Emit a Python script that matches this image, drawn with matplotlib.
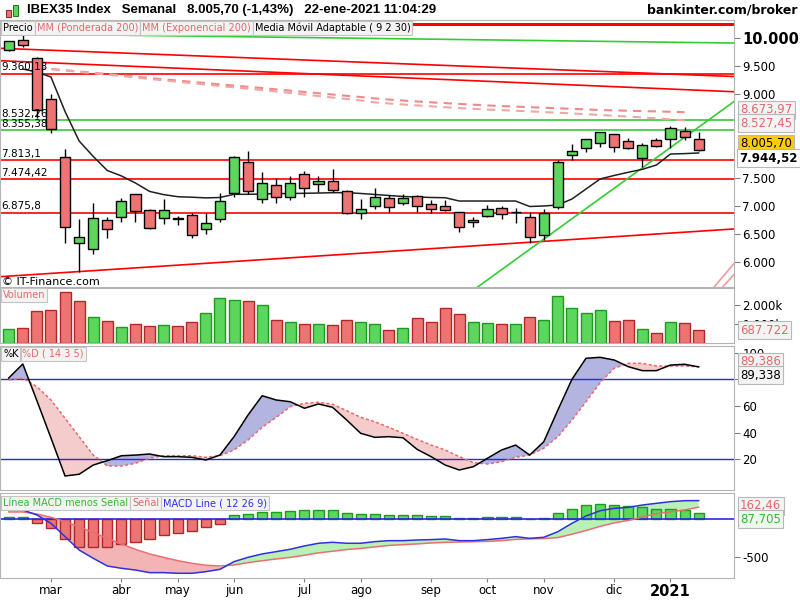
import numpy as np
import pandas as pd
import matplotlib
matplotlib.use("Agg")
import matplotlib.pyplot as plt
from matplotlib.patches import Rectangle

# --- datos semanales IBEX35 ---
fechas = pd.date_range("2020-02-10", periods=50, freq="W-MON")
meses = ["ene", "feb", "mar", "abr", "may", "jun", "jul", "ago", "sep", "oct", "nov", "dic"]

apertura = [9786, 9965, 9638, 8904, 7867, 6329, 6222, 6746, 6794, 7205, 6924, 6776, 6780, 6835, 6585,
            6758, 7223, 7788, 7116, 7366, 7152, 7568, 7395, 7443, 7264, 6865, 6991, 7134, 7044, 7170,
            7026, 6991, 6883, 6704, 6812, 6955, 6885, 6794, 6472, 6973, 7903, 8028, 8117, 8278, 8153,
            7849, 8171, 8189, 8337, 8189]
cierre = [9953, 9870, 8713, 8368, 6615, 6436, 6776, 6579, 7085, 6912, 6608, 6924, 6772, 6477, 6687,
          7085, 7867, 7270, 7402, 7162, 7402, 7313, 7443, 7288, 6876, 6942, 7152, 6973, 7134, 6991,
          6937, 6919, 6615, 6746, 6942, 6847, 6880, 6447, 6865, 7788, 7980, 8189, 8314, 8051, 8028,
          8082, 8064, 8396, 8225, 8005.70]
maximo = [9956, 10056, 9666, 8999, 8015, 6763, 7055, 6794, 7134, 7211, 6942, 7121, 6817, 6866, 6866,
          7234, 7890, 7985, 7599, 7491, 7533, 7627, 7533, 7658, 7277, 7121, 7313, 7193, 7205, 7193,
          7103, 7103, 6888, 6799, 7014, 6987, 6955, 6894, 6937, 7819, 8105, 8194, 8320, 8284, 8207,
          8117, 8218, 8432, 8414, 8325]
minimo = [9768, 9834, 8565, 8296, 6339, 5821, 6137, 6418, 6716, 6716, 6585, 6674, 6656, 6418, 6490,
          6716, 7162, 7211, 7055, 7055, 7103, 7162, 7241, 7241, 6858, 6769, 6942, 6894, 7019, 6894,
          6876, 6906, 6536, 6626, 6805, 6758, 6697, 6339, 6388, 6937, 7819, 7956, 8057, 7967, 8024,
          7699, 8060, 8028, 8176, 7980]

# Media Movil Adaptable (9 2 30), desde la semana 1
mma = [9446, 9393, 9303, 8686, 8159, 7883, 7631, 7534, 7407, 7257, 7200, 7162, 7153, 7141, 7148,
       7205, 7205, 7211, 7216, 7220, 7223, 7228, 7234, 7234, 7220, 7202, 7184, 7166, 7157, 7148,
       7144, 7085, 7085, 7085, 7085, 7085, 6987, 6996, 7014, 7121, 7300, 7479, 7542, 7599, 7652,
       7729, 7926, 7933, 7944.52]
# MM ponderada / exponencial 200, desde la semana 2
mm_ponderada = [9470, 9447, 9425, 9402, 9380, 9357, 9334, 9310, 9285, 9262, 9240, 9217, 9195, 9172,
                9150, 9128, 9106, 9082, 9059, 9036, 9013, 8990, 8967, 8945, 8920, 8900, 8882, 8866,
                8850, 8836, 8822, 8808, 8795, 8784, 8774, 8764, 8754, 8744, 8734, 8724, 8713, 8706,
                8700, 8694, 8688, 8681, 8673.97]
mm_exponencial = [9470, 9445, 9420, 9395, 9370, 9345, 9320, 9294, 9268, 9243, 9218, 9193, 9168, 9143,
                  9118, 9094, 9071, 9044, 9017, 8990, 8963, 8936, 8910, 8884, 8850, 8830, 8812, 8795,
                  8779, 8763, 8748, 8734, 8720, 8711, 8700, 8688, 8676, 8664, 8652, 8638, 8624, 8610,
                  8595, 8580, 8564, 8546, 8527.45]

niveles_rojos = [9360.13, 7813.1, 7474.42, 6875.8]
textos_rojos = ["9.360,13", "7.813,1", "7.474,42", "6.875,8"]
niveles_verdes = [8532.26, 8355.38]
textos_verdes = ["8.532,26", "8.355,38"]
nivel_techo = 10246

# lineas de tendencia: (x0, v0, x1, v1, color)
tendencias = [(-0.62, 9817, 51.5, 9312, "#ff0000"),
              (-0.62, 9595, 51.5, 9040, "#ff0000"),
              (-0.62, 5731, 51.5, 6585, "#ff0000"),
              (1.5, 10072, 51.5, 9911, "#33cc33"),
              (33.3, 5547, 51.5, 8862, "#33cc33"),
              (50.1, 5547, 51.5, 5963, "#f29a9a"),
              (50.7, 5547, 51.5, 5766, "#f29a9a")]

volumen = [741, 793, 1674, 1725, 2658, 2192, 1363, 1155, 845, 1000, 896, 948, 896, 1104, 1570, 2347,
           2244, 2192, 1984, 1207, 1104, 1000, 1000, 948, 1207, 1104, 1000, 689, 793, 1311, 1104, 1829,
           1518, 1104, 1052, 1000, 1000, 1363, 1207, 2451, 1829, 1570, 1725, 1155, 1207, 741, 482,
           1104, 1052, 687.722]

estoc_k = [81, 91.5, 64, 36, 7.5, 8.8, 15.7, 19, 22.7, 23.2, 24, 22, 22, 21.5, 19.5, 23.2, 37, 53.3,
           67.7, 64.5, 63.2, 58.3, 61.5, 59, 49.5, 39.5, 36.5, 37, 36.2, 27.5, 22, 15.7, 12, 14.5, 20.8,
           27, 30.7, 23.2, 33.2, 57, 80, 95.8, 96.5, 94.5, 89.5, 86.5, 86.5, 90.7, 91.3, 89.338]
estoc_d = [79.5, 80.8, 74.5, 64.5, 50.8, 37, 23.2, 15, 15, 17, 20.8, 22.7, 22.7, 22.7, 21.5, 22.7, 27,
           34.5, 44, 51.5, 59.5, 62, 62.8, 61.3, 56.5, 51.5, 48.2, 44, 39.5, 35, 30.7, 27, 22, 17.5,
           16.5, 18.2, 21.5, 23.2, 28.3, 37, 49.5, 63.2, 77.5, 88.3, 92, 92, 90, 90, 90, 89.386]

macd = [125, 125, 58, -54, -232, -411, -522, -625, -656, -679, -714, -714, -723, -723, -701, -670,
        -567, -509, -464, -433, -401, -357, -321, -308, -321, -321, -299, -286, -286, -277, -272, -264,
        -286, -286, -272, -255, -232, -255, -241, -166, -54, 44, 115, 147, 160, 191, 214, 236, 249,
        250.17]
senal = [98, 98, 71, 27, -32, -99, -179, -254, -331, -402, -464, -509, -554, -589, -615, -625, -612,
         -580, -555, -531, -510, -482, -450, -428, -405, -390, -370, -350, -340, -330, -317, -309,
         -304, -300, -296, -286, -270, -262, -258, -245, -200, -150, -95, -48, -15, 30, 75, 100, 125,
         162.46]
histograma = [27, 27, -54, -120, -268, -366, -375, -375, -331, -300, -268, -210, -179, -152, -107, -59,
              58, 71, 98, 98, 111, 125, 125, 120, 80, 71, 71, 58, 58, 58, 45, 45, 18, 18, 31, 31, 31,
              2, 18, 84, 134, 191, 205, 191, 178, 160, 138, 138, 125, 87.705]

VERDE, VERDE_B = "#5cd65c", "#1e9a1e"
ROJO, ROJO_B = "#ee7474", "#b02828"
GRIS = "#b4b4b4"

W, H = 800, 600
fig = plt.figure(figsize=(W / 100, H / 100), dpi=100)
fig.patch.set_facecolor("white")


def fx(x):
    return x / W


def fy(y):
    return 1 - y / H


def caja(x0, y0, x1, y1):
    return fig.add_axes([x0 / W, 1 - y1 / H, (x1 - x0) / W, (y1 - y0) / H])


ax_p = caja(0, 20, 734, 287)
ax_v = caja(0, 288, 734, 343)
ax_s = caja(0, 346, 734, 490)
ax_m = caja(0, 493, 734, 578)

for ax in (ax_p, ax_v, ax_s, ax_m):
    ax.set_xlim(-0.62, 51.51)
    ax.set_xticks([])
    ax.yaxis.tick_right()
    for s in ax.spines.values():
        s.set_color(GRIS)
    ax.tick_params(axis="y", direction="out", length=4, color="#808080", labelsize=8.5, pad=2)

x = np.arange(len(cierre))
ap, ci = np.array(apertura), np.array(cierre)

# --- precio ---
ax_p.set_ylim(5547, 10323)
ax_p.axhline(nivel_techo, color="#ff0000", lw=2.2, zorder=1)
for v in niveles_rojos:
    ax_p.axhline(v, color="#ff0000", lw=1.2, zorder=1)
for v in niveles_verdes:
    ax_p.axhline(v, color="#33cc33", lw=1.2, zorder=1)
for x0, v0, x1, v1, c in tendencias:
    ax_p.plot([x0, x1], [v0, v1], color=c, lw=1.2, zorder=1)
for v, t in zip(niveles_rojos + niveles_verdes, textos_rojos + textos_verdes):
    ax_p.text(-0.55, v + 25, t, fontsize=7.5, va="bottom", ha="left", zorder=5)

ax_p.plot(x[2:49], mm_ponderada, color="#ee8a8a", lw=1.5, dashes=(4, 3), zorder=2)
ax_p.plot(x[2:49], mm_exponencial, color="#f2a6a6", lw=1.5, dashes=(4, 3), zorder=2)
ax_p.plot(x[1:], mma, color="#202020", lw=1.1, zorder=2)

ax_p.vlines(x, minimo, maximo, color="black", lw=1, zorder=3)
ax_p.bar(x, np.abs(ci - ap), bottom=np.minimum(ap, ci), width=0.72,
         color=np.where(ci >= ap, VERDE, ROJO), edgecolor="black", lw=1, zorder=4)
ax_p.set_yticks([10000, 9500, 9000, 7500, 7000, 6500, 6000])
ax_p.set_yticklabels(["10.000", "9.500", "9.000", "7.500", "7.000", "6.500", "6.000"])
ax_p.get_yticklabels()[0].set_fontweight("bold")
ax_p.get_yticklabels()[0].set_fontsize(10.5)
ax_p.text(-0.45, 5640, "© IT-Finance.com", fontsize=8, va="center", ha="left")

# --- volumen ---
sube = np.r_[True, ci[1:] >= ci[:-1]]
ax_v.set_ylim(-20, 2881)
ax_v.bar(x, volumen, width=0.78, color=np.where(sube, VERDE, ROJO),
         edgecolor=np.where(sube, VERDE_B, ROJO_B), lw=1)
ax_v.set_yticks([2000, 1000])
ax_v.set_yticklabels(["2.000k", "1.000k"])

# --- estocastico ---
ax_s.set_ylim(-3, 105)
k, d = np.array(estoc_k), np.array(estoc_d)
ax_s.fill_between(x, k, d, where=k >= d, interpolate=True, color="#b4b4e0", lw=0)
ax_s.fill_between(x, k, d, where=k < d, interpolate=True, color="#f5cccc", lw=0)
ax_s.axhline(80, color="#2828e0", lw=1)
ax_s.axhline(20, color="#2828e0", lw=1)
ax_s.plot(x, d, color="#e86a6a", lw=1.1, dashes=(2, 1.5))
ax_s.plot(x, k, color="black", lw=1.1)
ax_s.set_yticks([100, 80, 60, 40, 20])
ax_s.set_yticklabels(["100", "", "60", "40", "20"])

# --- MACD ---
ax_m.set_ylim(-786, 352)
m, s = np.array(macd), np.array(senal)
ax_m.fill_between(x, m, s, where=m >= s, interpolate=True, color="#b8f0b8", lw=0)
ax_m.fill_between(x, m, s, where=m < s, interpolate=True, color="#f2b4b4", lw=0)
hist = np.array(histograma)
ax_m.bar(x, hist, width=0.72, color=np.where(hist >= 0, VERDE, ROJO),
         edgecolor=np.where(hist >= 0, VERDE_B, ROJO_B), lw=1)
ax_m.axhline(0, color="#2828e0", lw=1.2)
ax_m.plot(x, s, color="#e87070", lw=1.1)
ax_m.plot(x, m, color="#3030e0", lw=1.1)
ax_m.set_yticks([-500])
ax_m.set_yticklabels(["-500"])

# eje de fechas: primera semana de cada mes
pos = [i for i in range(1, len(fechas)) if fechas[i].month != fechas[i - 1].month]
etq = [str(fechas[i].year) if fechas[i].month == 1 else meses[fechas[i].month - 1] for i in pos]
ax_m.set_xticks(pos)
ax_m.set_xticklabels(etq)
ax_m.tick_params(axis="x", direction="out", length=3, color="#808080", labelsize=8.5, pad=1)
for t in ax_m.get_xticklabels():
    if t.get_text().isdigit():
        t.set_fontweight("bold")
        t.set_fontsize(10.5)

# --- cabecera ---
fig.add_artist(Rectangle((fx(6), fy(17)), 5 / W, 7 / H, transform=fig.transFigure,
                         fc=ROJO, ec="#903030", lw=0.8))
fig.add_artist(Rectangle((fx(13), fy(16)), 5 / W, 11 / H, transform=fig.transFigure,
                         fc=VERDE, ec="#208020", lw=0.8))
fig.text(fx(27), fy(10), "IBEX35 Index   Semanal   8.005,70 (-1,43%)   22-ene-2021 11:04:29",
         fontsize=9.5, fontweight="bold", family="Liberation Sans", va="center", ha="left")
fig.text(fx(797), fy(10), "bankinter.com/broker", fontsize=9, fontweight="bold", va="center", ha="right")

renderer = fig.canvas.get_renderer()


def pestanas(y, items):
    xp = 1
    for texto, color in items:
        t = fig.text(fx(xp + 2), fy(y), texto, color=color, fontsize=7, va="center", ha="left",
                     bbox=dict(boxstyle="square,pad=0.2", fc="#f3f3f3", ec="#c4c4c4", lw=0.8))
        xp += t.get_window_extent(renderer).width + 4


pestanas(28, [("Precio", "black"), ("MM (Ponderada 200)", "#e06a6a"),
              ("MM (Exponencial 200)", "#e06a6a"), ("Media Móvil Adaptable ( 9 2 30)", "black")])
pestanas(295, [("Volumen", "#e06a6a")])
pestanas(354, [("%K", "black"), ("%D ( 14 3 5)", "#e06a6a")])
pestanas(503, [("Línea MACD menos Señal", "#33bb33"), ("Señal", "#e06a6a"),
               ("MACD Line ( 12 26 9)", "#3030e0")])


def etiqueta(y, texto, color="black", fc="#f3f3f3", peso="normal", size=8.5, x0=740):
    fig.text(fx(x0), fy(y), texto, color=color, fontsize=size, fontweight=peso, va="center",
             ha="left", bbox=dict(boxstyle="square,pad=0.2", fc=fc, ec="#b8b8b8", lw=0.8))


etiqueta(110, "8.673,97", "#e06a6a")
etiqueta(123, "8.527,45", "#e06a6a")
etiqueta(144, "8.005,70", fc="#ffcc00")
etiqueta(158, "7.944,52", fc="white", peso="bold", size=8.5, x0=739)
etiqueta(330, "687.722", "#e06a6a")
etiqueta(362, "89,386", "#e06a6a")
etiqueta(375, "89,338")
etiqueta(506, "162,46", "#e06a6a")
etiqueta(519, "87,705", "#33bb33", fc="#eef8ee")

fig.savefig("out.png", dpi=100)
